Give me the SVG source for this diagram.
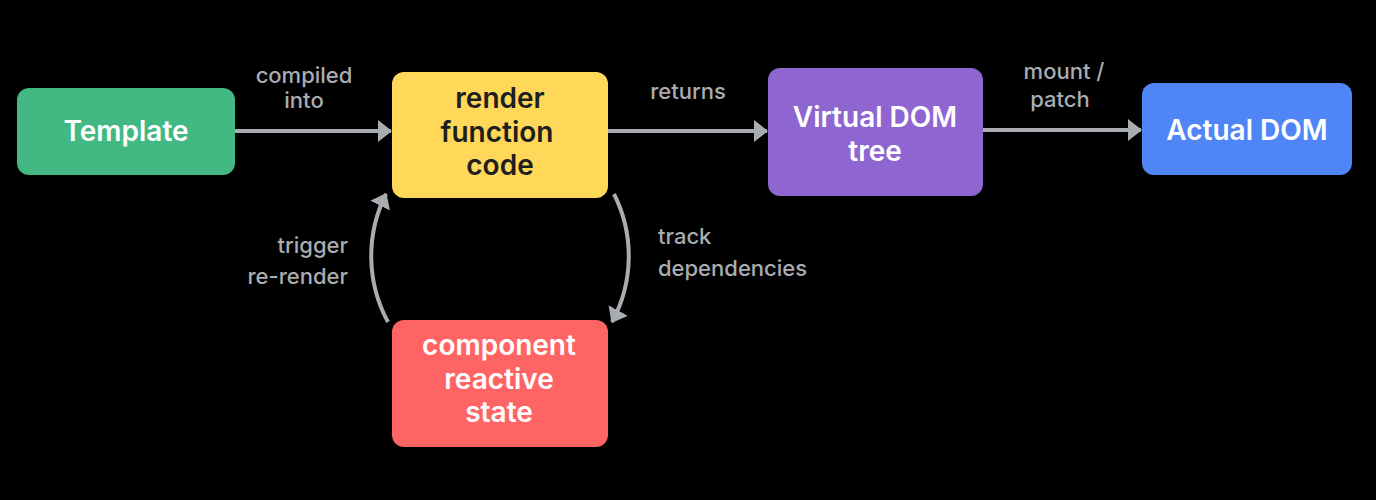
<svg xmlns="http://www.w3.org/2000/svg" width="1376" height="500" viewBox="0 0 1376 500">
  <style>
    .node-text { font-family: Inter, "Noto Sans", "Liberation Sans", sans-serif; font-weight: 600; font-size: 28px; text-anchor: middle; }
    .light { fill: #ffffff; }
    .dark { fill: #1e1e1e; }
    .label { font-family: Inter, "Noto Sans", "Liberation Sans", sans-serif; font-weight: 500; font-size: 22px; fill: #a9adb2; }
    .conn { fill: none; stroke: #a9adb2; stroke-width: 4; }
  </style>
  <defs>
    <marker id="arrow" viewBox="0 0 14 22" refX="13" refY="11" markerWidth="14" markerHeight="22" markerUnits="userSpaceOnUse" orient="auto">
      <path d="M0,0 L14,11 L0,22 Z" fill="#a9adb2"/>
    </marker>
  </defs>
  <rect x="0" y="0" width="1376" height="500" fill="#000000"/>

  <g id="connectors">
    <path class="conn" d="M235,131 L391,131" marker-end="url(#arrow)"/>
    <path class="conn" d="M608,131 L767,131" marker-end="url(#arrow)"/>
    <path class="conn" d="M983,130 L1141,130" marker-end="url(#arrow)"/>
    <path class="conn" d="M388,322 A138,138 0 0 1 386,194" marker-end="url(#arrow)"/>
    <path class="conn" d="M614,194 A138,138 0 0 1 612,322" marker-end="url(#arrow)"/>
  </g>

  <g id="label-compiled">
    <text class="label" x="304" y="83" text-anchor="middle">compiled</text>
    <text class="label" x="304" y="108" text-anchor="middle">into</text>
  </g>
  <g id="label-returns">
    <text class="label" x="688" y="99" text-anchor="middle">returns</text>
  </g>
  <g id="label-mount">
    <text class="label" x="1064" y="79" text-anchor="middle">mount /</text>
    <text class="label" x="1060" y="107" text-anchor="middle">patch</text>
  </g>
  <g id="label-trigger">
    <text class="label" x="348" y="253" text-anchor="end">trigger</text>
    <text class="label" x="348" y="284" text-anchor="end">re-render</text>
  </g>
  <g id="label-track">
    <text class="label" x="658" y="244">track</text>
    <text class="label" x="658" y="276">dependencies</text>
  </g>

  <g id="node-template">
    <rect x="17" y="88" width="218" height="87" rx="12" fill="#42b883"/>
    <text class="node-text light" x="126" y="141">Template</text>
  </g>
  <g id="node-render">
    <rect x="392" y="72" width="216" height="126" rx="12" fill="#ffd859"/>
    <text class="node-text dark" x="500" y="108">render</text>
    <text class="node-text dark" x="497" y="142">function</text>
    <text class="node-text dark" x="500" y="175">code</text>
  </g>
  <g id="node-state">
    <rect x="392" y="320" width="216" height="127" rx="12" fill="#ff6464"/>
    <text class="node-text light" x="499" y="355">component</text>
    <text class="node-text light" x="499" y="389">reactive</text>
    <text class="node-text light" x="499" y="422">state</text>
  </g>
  <g id="node-vdom">
    <rect x="768" y="68" width="215" height="128" rx="12" fill="#8e65d1"/>
    <text class="node-text light" x="875" y="127">Virtual DOM</text>
    <text class="node-text light" x="875" y="161">tree</text>
  </g>
  <g id="node-actual">
    <rect x="1142" y="83" width="210" height="92" rx="12" fill="#5085f8"/>
    <text class="node-text light" x="1247" y="140">Actual DOM</text>
  </g>
</svg>
